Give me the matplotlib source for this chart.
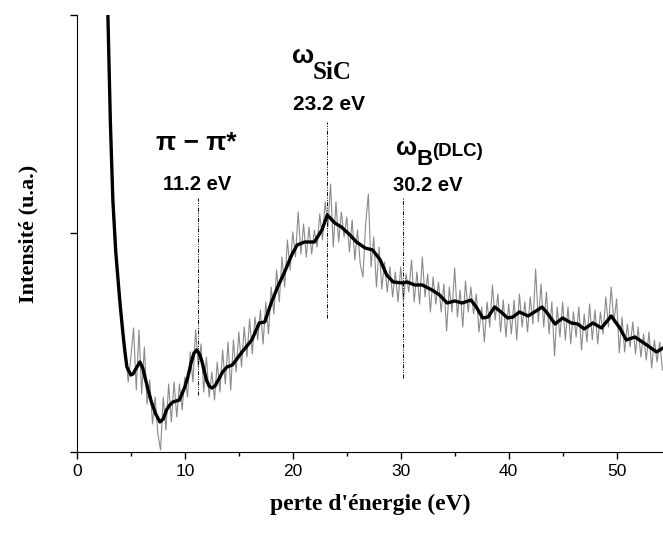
import numpy as np
import matplotlib
matplotlib.use("Agg")
import matplotlib.pyplot as plt

# spectre brut (canaux de 0.25 eV a partir de 2.75 eV)
e0_brut = 2.75
pas_brut = 0.25
I_brut = [490, 380, 282, 225, 178, 150, 118, 100, 70, 95,
          124, 62, 122, 58, 105, 48, 72, 28, 55, 18,
          2, 55, 22, 68, 30, 70, 35, 68, 42, 75,
          55, 100, 70, 122, 85, 108, 60, 95, 55, 80,
          52, 90, 60, 102, 68, 110, 62, 112, 80, 120,
          85, 125, 95, 133, 98, 135, 112, 142, 108, 150,
          118, 165, 138, 182, 150, 195, 165, 212, 182, 220,
          195, 240, 198, 228, 195, 225, 198, 222, 205, 238,
          212, 250, 225, 268, 205, 250, 210, 240, 215, 235,
          200, 232, 192, 222, 188, 175, 228, 258, 185, 215,
          165, 205, 163, 190, 160, 185, 155, 180, 150, 185,
          152, 178, 160, 192, 150, 180, 148, 195, 155, 178,
          140, 175, 148, 170, 140, 168, 121, 165, 140, 184,
          135, 162, 125, 171, 140, 165, 138, 158, 120, 145,
          110, 150, 125, 167, 132, 158, 120, 152, 115, 148,
          118, 152, 112, 158, 125, 150, 120, 155, 128, 183,
          130, 168, 125, 160, 118, 150, 96, 145, 115, 150,
          112, 145, 108, 140, 115, 145, 102, 138, 110, 148,
          112, 142, 108, 140, 118, 155, 125, 165, 130, 153,
          99, 135, 100, 128, 105, 130, 98, 125, 95, 118,
          92, 120, 84, 112, 90, 110, 82]
E_brut = e0_brut + pas_brut*np.arange(len(I_brut))

# spectre lisse
E_lisse = [2.70, 2.87, 3.1, 3.33, 3.6, 3.89, 4.0, 4.26, 4.45, 4.63, 5.0, 5.2,
           5.4, 5.83, 6.1, 6.3, 6.6, 6.9, 7.3, 7.69, 8.0, 8.3, 8.6, 8.9,
           9.5, 10.0, 10.3, 10.6, 10.85, 11.1, 11.35, 11.6, 12.0, 12.25, 12.5, 12.8,
           13.1, 13.5, 13.9, 14.4, 15.3, 16.2, 16.9, 17.4, 18.0, 18.6, 19.2, 19.9,
           20.4, 21.1, 22.0, 22.7, 23.2, 23.9, 24.5, 25.3, 25.9, 26.7, 27.4, 28.1,
           28.7, 29.3, 30.2, 30.6, 31.3, 32.0, 32.9, 33.6, 34.3, 35.0, 35.7, 36.5,
           37.0, 37.6, 38.1, 38.7, 39.3, 39.9, 40.4, 41.0, 41.8, 42.4, 43.1, 43.5,
           44.3, 45.0, 45.8, 46.4, 47.0, 47.8, 48.6, 49.5, 50.3, 50.9, 51.7, 52.8,
           53.7, 54.3]
I_lisse = [480, 437, 330, 252, 200, 162, 148, 119, 100, 85, 77, 78,
           82, 90, 84, 75, 62, 50, 38, 30, 33, 42, 47, 50,
           52, 65, 76, 90, 99, 102, 98, 90, 72, 66, 64, 66,
           72, 80, 85, 87, 100, 112, 129, 130, 149, 165, 179, 197,
           207, 210, 210, 222, 237, 229, 225, 217, 210, 204, 202, 192,
           177, 170, 169, 170, 167, 167, 162, 157, 149, 151, 149, 152,
           145, 134, 135, 145, 140, 134, 135, 140, 136, 140, 145, 140,
           128, 134, 129, 128, 123, 129, 124, 136, 124, 112, 115, 107,
           100, 104]

# pics reperes : energie, bas et haut du trait
pics_E = [11.2, 23.2, 30.2]
pics_bas = [57, 134, 74]
pics_haut = [254, 330, 254]

fig = plt.figure(figsize=(6.63, 5.34), dpi=100)
ax = fig.add_axes([0.116, 0.1536, 0.884, 0.8183])

ax.plot(E_brut, I_brut, color="#8a8a8a", lw=0.8)
ax.plot(E_lisse, I_lisse, color="black", lw=2.4,
        solid_joinstyle="round", solid_capstyle="round")

for e, b, h in zip(pics_E, pics_bas, pics_haut):
    ax.plot([e, e], [b, h], color="black", lw=0.7,
            linestyle=(0, (4, 1.5, 1, 1.5, 1, 1.5)))

ax.set_xlim(0, 54.3)
ax.set_ylim(0, 437)
ax.set_xticks([0, 10, 20, 30, 40, 50])
ax.set_xticks([5, 15, 25, 35, 45], minor=True)
ax.set_yticks([0, 218.5, 437])
ax.set_yticklabels([])
ax.tick_params(axis="both", direction="out", length=5, width=1)
ax.tick_params(axis="x", which="minor", direction="out", length=3, width=1)
for lab in ax.get_xticklabels():
    lab.set_fontfamily("Liberation Sans")
    lab.set_fontsize(12.5)
ax.spines["top"].set_visible(False)
ax.spines["right"].set_visible(False)

ax.set_xlabel("perte d'énergie (eV)", family="Liberation Serif",
              weight="bold", fontsize=17, labelpad=11)
ax.set_ylabel("Intensité (u.a.)", family="Liberation Serif",
              weight="bold", fontsize=16, labelpad=19)

sans = dict(family="Liberation Sans", weight="bold")
ax.text(11.1, 309, "π − π*", ha="center", va="center", fontsize=19, **sans)
ax.text(11.1, 267, "11.2 eV", ha="center", va="center", fontsize=14.5, **sans)

ax.text(19.9, 389, "ω", ha="left", va="baseline", fontsize=19, **sans)
ax.text(21.8, 373, "SiC", ha="left", va="baseline", fontsize=18,
        family="Liberation Serif", weight="bold")
ax.text(23.4, 347, "23.2 eV", ha="center", va="center", fontsize=15, **sans)

ax.text(29.6, 297, "ω", ha="left", va="baseline", fontsize=18, **sans)
ax.text(31.5, 287, "B", ha="left", va="baseline", fontsize=16, **sans)
ax.text(32.9, 296, "(DLC)", ha="left", va="baseline", fontsize=13.5, **sans)
ax.text(32.5, 266, "30.2 eV", ha="center", va="center", fontsize=14.5, **sans)

fig.savefig("out.png", dpi=100)
